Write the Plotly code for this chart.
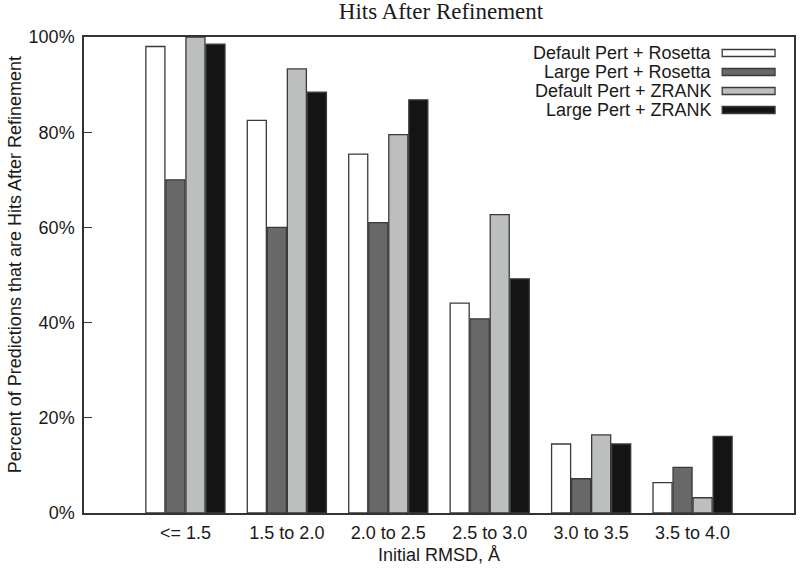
import plotly.graph_objects as go

categories = ["<= 1.5", "1.5 to 2.0", "2.0 to 2.5", "2.5 to 3.0", "3.0 to 3.5", "3.5 to 4.0"]
series_names = ["Default Pert + Rosetta", "Large Pert + Rosetta", "Default Pert + ZRANK", "Large Pert + ZRANK"]
default_rosetta = [98.0, 82.5, 75.4, 44.1, 14.5, 6.4]
large_rosetta = [70.0, 60.0, 61.0, 40.8, 7.2, 9.6]
default_zrank = [100.0, 93.3, 79.5, 62.7, 16.4, 3.2]
large_zrank = [98.5, 88.4, 86.8, 49.2, 14.5, 16.1]
y_tick_values = [0, 20, 40, 60, 80, 100]
y_tick_labels = ["0%", "20%", "40%", "60%", "80%", "100%"]

fills = ["#ffffff", "#686868", "#bdbfbe", "#141414"]
series_values = [default_rosetta, large_rosetta, default_zrank, large_zrank]

SANS = "Liberation Sans, Arial, Helvetica, sans-serif"
SERIF = "Liberation Serif, Times New Roman, serif"

fig = go.Figure()
for name, vals, col in zip(series_names, series_values, fills):
    fig.add_trace(go.Bar(
        x=categories, y=vals, name=name,
        marker=dict(color=col, line=dict(color="#3a3a3a", width=1.3)),
        showlegend=False,
    ))

# plot area geometry in pixels
L, R, T, B = 84, 796, 37, 513
W, H = 800, 570
pw, ph = R - L, B - T

def px_x(x):
    return (x - L) / pw

def px_y(y):
    return (B - y) / ph

annotations = []
shapes = []
rows_y = [53, 72, 91, 110]
for name, col, ry in zip(series_names, fills, rows_y):
    annotations.append(dict(
        x=px_x(716), y=px_y(ry), xref="paper", yref="paper",
        text=name, showarrow=False, xanchor="right", yanchor="middle",
        font=dict(family=SANS, size=18, color="#1a1a1a"),
    ))
    shapes.append(dict(
        type="rect", xref="paper", yref="paper",
        x0=px_x(724), x1=px_x(777), y0=px_y(ry + 3.5), y1=px_y(ry - 3.5),
        fillcolor=col, line=dict(color="#3a3a3a", width=1.3),
    ))

# y-axis title as annotation for exact placement
annotations.append(dict(
    x=px_x(15), y=px_y(265), xref="paper", yref="paper",
    text="Percent of Predictions that are Hits After Refinement",
    textangle=-90, showarrow=False, xanchor="center", yanchor="middle",
    font=dict(family=SANS, size=18, color="#1a1a1a"),
))

fig.update_layout(
    width=W, height=H,
    margin=dict(l=L, r=W - R, t=T, b=H - B, pad=0),
    paper_bgcolor="white", plot_bgcolor="white",
    barmode="group", bargap=0.21, bargroupgap=0.05,
    title=dict(text="Hits After Refinement", x=px_x(442), xref="paper", xanchor="center",
               y=1 - 11 / H, yanchor="middle", yref="container",
               font=dict(family=SERIF, size=23, color="#1a1a1a")),
    annotations=annotations, shapes=shapes,
    xaxis=dict(
        range=[-1, 6], showgrid=False, zeroline=False,
        showline=True, linecolor="#333333", linewidth=1.5, mirror=True,
        ticks="", tickfont=dict(family=SANS, size=18, color="#1a1a1a"),
        ticklabelstandoff=3,
        title=dict(text="Initial RMSD, Å", font=dict(family=SANS, size=18, color="#1a1a1a"), standoff=6),
    ),
    yaxis=dict(
        range=[0, 100], showgrid=False, zeroline=False,
        showline=True, linecolor="#333333", linewidth=1.5, mirror=True,
        ticks="inside", ticklen=8, tickcolor="#333333", tickwidth=1.3,
        tickvals=y_tick_values, ticktext=y_tick_labels,
        tickfont=dict(family=SANS, size=18, color="#1a1a1a"),
        ticklabelstandoff=4,
    ),
)

fig.write_html("out.html", config={"displayModeBar": False},
               post_script="document.body.style.margin='0px';")
